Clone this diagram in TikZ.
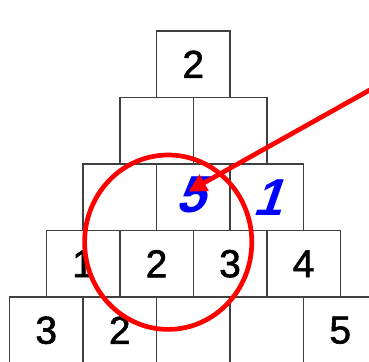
\documentclass[tikz,border=0pt]{standalone}
\usepackage{fontspec}
\setmainfont{Liberation Sans}[FakeBold=2]
\newfontfamily\digitfont[FakeBold=1.5]{Liberation Sans}
\newfontfamily\bluefont[FakeSlant=0.35]{Liberation Sans Bold}
\usetikzlibrary{arrows.meta,shapes.geometric}
\definecolor{boxline}{HTML}{404040}
\definecolor{blueink}{HTML}{0000FF}
\begin{document}
\begin{tikzpicture}[x=1pt,y=-1pt,
  cell/.style={draw=boxline, line width=1.5pt, minimum width=73.5pt, minimum height=66.5pt,
    inner sep=0pt, outer sep=0pt, anchor=north west, font=\fontsize{39}{39}\digitfont},
  bluedigit/.style={text=blueink, font=\fontsize{52}{52}\bluefont},
  redmark/.style={draw=red, line width=4.7pt}]
\useasboundingbox (0,0) rectangle (369,361);
\clip (0,0) rectangle (369,361);
% row 0
\node[cell] (r0c0) at (156.5,31) {2};
% row 1
\node[cell] (r1c0) at (119.75,97.5) {};
\node[cell] (r1c1) at (193.25,97.5) {};
% row 2
\node[cell] (r2c0) at (83,164) {};
\node[cell] (r2c1) at (156.5,164) {};
\node[cell] (r2c2) at (230,164) {};
% row 3
\node[cell] (r3c0) at (46.25,230.5) {1};
\node[cell] (r3c1) at (119.75,230.5) {2};
\node[cell] (r3c2) at (193.25,230.5) {3};
\node[cell] (r3c3) at (266.75,230.5) {4};
% row 4
\node[cell] (r4c0) at (9.5,297) {3};
\node[cell] (r4c1) at (83,297) {2};
\node[cell] (r4c2) at (156.5,297) {};
\node[cell] (r4c3) at (230,297) {};
\node[cell] (r4c4) at (303.5,297) {5};
% blue entries
\node[bluedigit] (five) at ([xshift=-3pt,yshift=2pt]r2c1.center) {5};
\node[bluedigit] (one) at (r2c2.center) {1};
% red circle and arrow
\node[redmark, ellipse, minimum width=167.2pt, minimum height=174.4pt, inner sep=0pt] (ring) at (168.2,242.2) {};
\coordinate (arrowstart) at (385,81.5);
\coordinate (arrowtip) at (188.5,191.5);
\draw[redmark, -{Triangle[length=18pt,width=18pt]}] (arrowstart) -- (arrowtip);
\end{tikzpicture}
\end{document}
